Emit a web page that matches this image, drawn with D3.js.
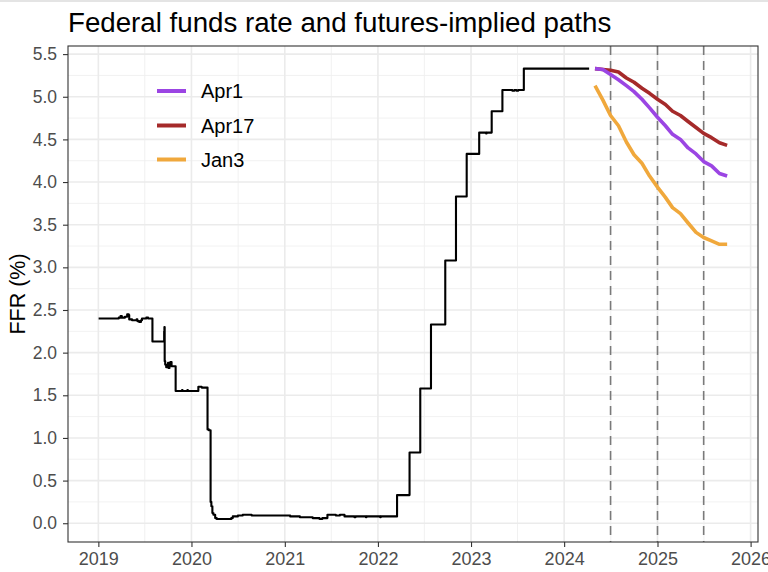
<!DOCTYPE html>
<html>
<head>
<meta charset="utf-8">
<script src="https://cdn.jsdelivr.net/npm/d3@7"></script>
<style>
  html, body { margin: 0; padding: 0; background: #ffffff; }
  svg { display: block; font-family: "Liberation Sans", Arial, Helvetica, sans-serif; }
</style>
</head>
<body>
<svg id="chart" width="768" height="572"></svg>
<script>
// ---------------- DATA ----------------
const chartTitle = "Federal funds rate and futures-implied paths";
const yAxisTitle = "FFR (%)";

// Effective federal funds rate: dates where the value changes (step series)
const effrDates = [
  "2019-01-02","2019-03-22","2019-03-29","2019-04-03","2019-04-15","2019-04-24","2019-04-30",
  "2019-05-02","2019-05-13","2019-05-31","2019-06-03","2019-06-10","2019-06-17","2019-06-21",
  "2019-07-08","2019-07-15","2019-08-01","2019-09-16","2019-09-17","2019-09-18","2019-09-20",
  "2019-09-24","2019-09-27","2019-10-01","2019-10-03","2019-10-07","2019-10-10","2019-10-15",
  "2019-10-31","2019-11-25","2019-11-27","2019-12-16","2019-12-18","2020-01-28","2020-02-10",
  "2020-03-04","2020-03-09","2020-03-16","2020-03-19","2020-03-23","2020-03-27","2020-04-03",
  "2020-04-09","2020-06-05","2020-06-11","2020-07-01","2020-07-20","2020-08-24","2021-01-22",
  "2021-03-01","2021-04-20","2021-05-17","2021-05-28","2021-06-17","2021-07-20","2021-08-05",
  "2021-08-23","2021-10-01","2021-10-05","2021-11-15","2021-11-17","2022-01-10","2022-01-12",
  "2022-03-17","2022-05-05","2022-06-16","2022-07-28","2022-09-22","2022-11-03","2022-12-15",
  "2023-02-02","2023-03-01","2023-03-03","2023-03-23","2023-05-04","2023-06-12","2023-06-20",
  "2023-06-28","2023-07-05","2023-07-27","2024-04-08"
];
const effrRates = [
  2.40,2.41,2.43,2.41,2.42,2.45,2.44,
  2.39,2.38,2.39,2.37,2.36,2.38,2.40,
  2.41,2.40,2.13,2.25,2.30,1.90,1.86,
  1.83,1.85,1.88,1.82,1.86,1.89,1.84,
  1.55,1.56,1.55,1.56,1.55,1.60,1.59,
  1.10,1.09,0.25,0.20,0.12,0.10,0.06,
  0.05,0.06,0.08,0.09,0.10,0.09,0.08,
  0.07,0.06,0.05,0.06,0.10,0.09,0.10,
  0.08,0.07,0.08,0.07,0.08,0.07,0.08,
  0.33,0.83,1.58,2.33,3.08,3.83,4.33,
  4.58,4.57,4.58,4.83,5.08,5.07,5.08,
  5.07,5.08,5.33,5.33
];

// Futures-implied monthly paths
const futureMonths = [
  "2024-05-01","2024-06-01","2024-07-01","2024-08-01","2024-09-01","2024-10-01",
  "2024-11-01","2024-12-01","2025-01-01","2025-02-01","2025-03-01","2025-04-01",
  "2025-05-01","2025-06-01","2025-07-01","2025-08-01","2025-09-01","2025-10-01"
];
const seriesNames = ["Apr1", "Apr17", "Jan3"];
const seriesColors = ["#9b45e3", "#a52a2a", "#f0a83c"];
const pathApr1  = [5.33,5.32,5.26,5.20,5.13,5.06,4.97,4.87,4.76,4.66,4.56,4.50,4.40,4.33,4.24,4.19,4.10,4.07];
const pathApr17 = [5.33,5.32,5.31,5.29,5.22,5.17,5.10,5.04,4.97,4.91,4.83,4.78,4.71,4.64,4.57,4.52,4.46,4.43];
const pathJan3  = [5.13,4.96,4.78,4.66,4.47,4.32,4.22,4.07,3.94,3.82,3.70,3.63,3.52,3.41,3.35,3.31,3.27,3.27];

// Axis ticks and reference lines
const xTickYears = [2019, 2020, 2021, 2022, 2023, 2024, 2025, 2026];
const yTicks = [0, 0.5, 1, 1.5, 2, 2.5, 3, 3.5, 4, 4.5, 5, 5.5];
const dashedDates = ["2024-07-01", "2025-01-01", "2025-07-01"];

// ---------------- LAYOUT ----------------
const panel = { left: 68, right: 758, top: 46, bottom: 542 };
const parse = d3.timeParse("%Y-%m-%d");

const x = d3.scaleTime()
  .domain([new Date(2018, 8, 4), new Date(2026, 0, 30)])
  .range([panel.left, panel.right]);
const y = d3.scaleLinear()
  .domain([-0.22, 5.595])
  .range([panel.bottom, panel.top]);

const svg = d3.select("#chart");

// faint top strip like the reference
svg.append("rect").attr("x", 0).attr("y", 0).attr("width", 768).attr("height", 2).attr("fill", "#e4e4e4");

// clip for panel contents
svg.append("defs").append("clipPath").attr("id", "clip")
  .append("rect")
  .attr("x", panel.left).attr("y", panel.top)
  .attr("width", panel.right - panel.left).attr("height", panel.bottom - panel.top);

const grid = svg.append("g").attr("clip-path", "url(#clip)");

// minor grid
const yMinor = yTicks.slice(0, -1).map(v => v + 0.25).concat([-0.25]);
const xMinor = xTickYears.slice(0, -1).map(yr => new Date(yr, 6, 2));
grid.selectAll(".yminor").data(yMinor).enter().append("line")
  .attr("x1", panel.left).attr("x2", panel.right)
  .attr("y1", d => y(d)).attr("y2", d => y(d))
  .attr("stroke", "#efefef").attr("stroke-width", 0.9);
grid.selectAll(".xminor").data(xMinor).enter().append("line")
  .attr("y1", panel.top).attr("y2", panel.bottom)
  .attr("x1", d => x(d)).attr("x2", d => x(d))
  .attr("stroke", "#efefef").attr("stroke-width", 0.9);

// major grid
grid.selectAll(".ymajor").data(yTicks).enter().append("line")
  .attr("x1", panel.left).attr("x2", panel.right)
  .attr("y1", d => y(d)).attr("y2", d => y(d))
  .attr("stroke", "#ebebeb").attr("stroke-width", 1.6);
grid.selectAll(".xmajor").data(xTickYears).enter().append("line")
  .attr("y1", panel.top).attr("y2", panel.bottom)
  .attr("x1", d => x(new Date(d, 0, 1))).attr("x2", d => x(new Date(d, 0, 1)))
  .attr("stroke", "#ebebeb").attr("stroke-width", 1.6);

// dashed reference lines
grid.selectAll(".dash").data(dashedDates).enter().append("line")
  .attr("y1", panel.top).attr("y2", panel.bottom)
  .attr("x1", d => x(parse(d))).attr("x2", d => x(parse(d)))
  .attr("stroke", "#7a7a7a").attr("stroke-width", 1.6)
  .attr("stroke-dasharray", "9,6");

// EFFR step line
const effr = effrDates.map((d, i) => ({ date: parse(d), value: effrRates[i] }));
const stepLine = d3.line().x(d => x(d.date)).y(d => y(d.value)).curve(d3.curveStepAfter);
grid.append("path").datum(effr)
  .attr("d", stepLine)
  .attr("fill", "none").attr("stroke", "#000").attr("stroke-width", 2.1)
  .attr("stroke-linejoin", "round");

// futures paths
const seriesValues = { "Apr1": pathApr1, "Apr17": pathApr17, "Jan3": pathJan3 };
const pathLine = d3.line().x(d => x(d.date)).y(d => y(d.value));
const drawOrder = ["Apr17", "Apr1", "Jan3"];
drawOrder.forEach(name => {
  const vals = seriesValues[name];
  const data = futureMonths.map((d, i) => ({ date: parse(d), value: vals[i] }));
  grid.append("path").datum(data)
    .attr("d", pathLine)
    .attr("fill", "none")
    .attr("stroke", seriesColors[seriesNames.indexOf(name)])
    .attr("stroke-width", 3.6)
    .attr("stroke-linejoin", "round");
});

// panel border
svg.append("rect")
  .attr("x", panel.left).attr("y", panel.top)
  .attr("width", panel.right - panel.left).attr("height", panel.bottom - panel.top)
  .attr("fill", "none").attr("stroke", "#333333").attr("stroke-width", 1.1);

// axes
const xAxis = d3.axisBottom(x)
  .tickValues(xTickYears.map(yr => new Date(yr, 0, 1)))
  .tickFormat(d3.timeFormat("%Y"))
  .tickSize(5).tickPadding(5);
const gx = svg.append("g").attr("transform", `translate(0,${panel.bottom})`).call(xAxis);
gx.select(".domain").remove();
gx.selectAll(".tick line").attr("stroke", "#333333").attr("stroke-width", 1.1);
gx.selectAll(".tick text").attr("fill", "#4d4d4d").style("font-size", "18px")
  .style("font-family", "'Liberation Sans', Arial, sans-serif");

const yAxis = d3.axisLeft(y)
  .tickValues(yTicks)
  .tickFormat(d3.format(".1f"))
  .tickSize(5).tickPadding(6);
const gy = svg.append("g").attr("transform", `translate(${panel.left},0)`).call(yAxis);
gy.select(".domain").remove();
gy.selectAll(".tick line").attr("stroke", "#333333").attr("stroke-width", 1.1);
gy.selectAll(".tick text").attr("fill", "#4d4d4d").style("font-size", "17.5px")
  .style("font-family", "'Liberation Sans', Arial, sans-serif");

// y axis title
svg.append("text")
  .attr("transform", `translate(25,${(panel.top + panel.bottom) / 2}) rotate(-90)`)
  .attr("text-anchor", "middle")
  .attr("fill", "#000")
  .style("font-size", "21.5px")
  .text(yAxisTitle);

// title
svg.append("text")
  .attr("x", panel.left).attr("y", 32)
  .attr("fill", "#000")
  .style("font-size", "27.7px")
  .text(chartTitle);

// legend
const legend = svg.append("g");
const legendRows = [91, 125.5, 159.5];
seriesNames.forEach((name, i) => {
  legend.append("line")
    .attr("x1", 157).attr("x2", 186)
    .attr("y1", legendRows[i]).attr("y2", legendRows[i])
    .attr("stroke", seriesColors[i]).attr("stroke-width", 4);
  legend.append("text")
    .attr("x", 201).attr("y", legendRows[i])
    .attr("dy", "0.36em")
    .attr("fill", "#000")
    .style("font-size", "20px")
    .text(name);
});
</script>
</body>
</html>
